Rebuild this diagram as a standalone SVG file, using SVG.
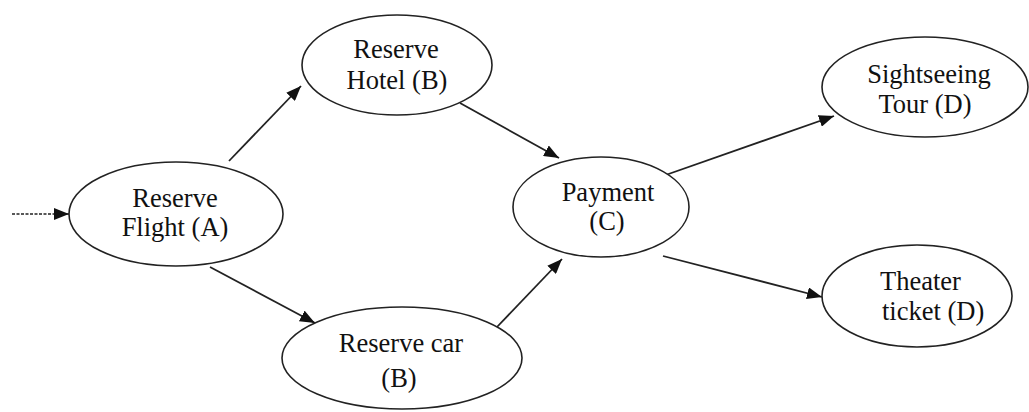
<svg xmlns="http://www.w3.org/2000/svg" width="1029" height="412" viewBox="0 0 1029 412">
  <style>
    .node ellipse { fill: #ffffff; stroke: #222222; stroke-width: 1.6; }
    .node text { font-family: "Liberation Serif", "Times New Roman", serif; font-size: 26.5px; fill: #111111; }
    .edge { stroke: #222222; stroke-width: 1.8; fill: none; marker-end: url(#arrow); }
    .dashed { stroke-dasharray: 3 1.5; stroke-width: 1.5; }
  </style>
  <defs>
    <marker id="arrow" markerUnits="userSpaceOnUse" markerWidth="16" markerHeight="12" refX="15" refY="6" orient="auto">
      <path d="M0,0 L15,6 L0,12 Z" fill="#111111"/>
    </marker>
  </defs>
  <rect width="1029" height="412" fill="#ffffff"/>

  <!-- connectors -->
  <g id="connectors">
    <line class="edge dashed" x1="12" y1="214" x2="69" y2="214"/>
    <line class="edge" x1="229" y1="161" x2="301" y2="86"/>
    <line class="edge" x1="460" y1="103" x2="559" y2="158"/>
    <line class="edge" x1="210" y1="267" x2="315" y2="323"/>
    <line class="edge" x1="497" y1="327" x2="562" y2="259"/>
    <line class="edge" x1="660" y1="177" x2="834" y2="116"/>
    <line class="edge" x1="663" y1="256" x2="822" y2="297"/>
  </g>

  <!-- nodes -->
  <g id="node-flight" class="node">
    <ellipse cx="176" cy="214" rx="107" ry="52"/>
    <text x="175" y="207" text-anchor="middle">Reserve</text>
    <text x="175" y="236" text-anchor="middle">Flight (A)</text>
  </g>
  <g id="node-hotel" class="node">
    <ellipse cx="397" cy="65" rx="95" ry="50"/>
    <text x="396" y="58" text-anchor="middle">Reserve</text>
    <text x="397" y="89" text-anchor="middle">Hotel (B)</text>
  </g>
  <g id="node-car" class="node">
    <ellipse cx="402" cy="358" rx="120" ry="51"/>
    <text x="401" y="352" text-anchor="middle">Reserve car</text>
    <text x="399" y="387" text-anchor="middle">(B)</text>
  </g>
  <g id="node-payment" class="node">
    <ellipse cx="601" cy="207" rx="88" ry="50"/>
    <text x="608" y="201" text-anchor="middle">Payment</text>
    <text x="607" y="230" text-anchor="middle">(C)</text>
  </g>
  <g id="node-sightseeing" class="node">
    <ellipse cx="925" cy="87" rx="103" ry="50"/>
    <text x="929" y="83" text-anchor="middle">Sightseeing</text>
    <text x="925" y="113" text-anchor="middle">Tour (D)</text>
  </g>
  <g id="node-theater" class="node">
    <ellipse cx="917" cy="296" rx="95" ry="51"/>
    <text x="880" y="290">Theater</text>
    <text x="882" y="320">ticket (D)</text>
  </g>
</svg>
